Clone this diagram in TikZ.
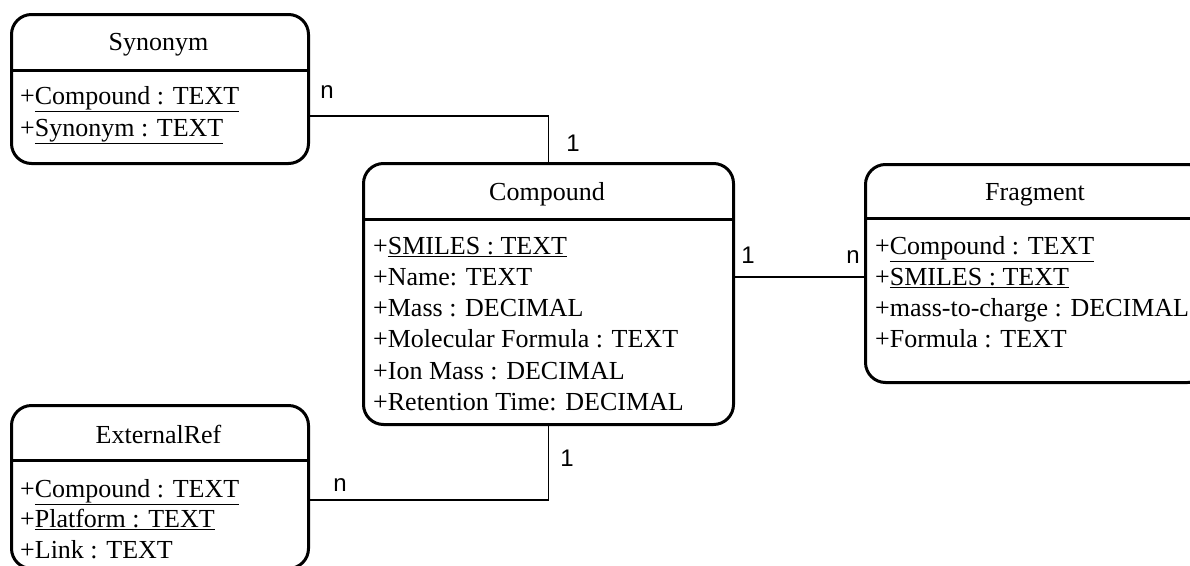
\documentclass[tikz,border=0pt]{standalone}
\usepackage{fontspec}
\setmainfont{Liberation Serif}
\newfontfamily\cardfont{Liberation Sans}

\tikzset{
  entity/.style={draw,line width=3pt,rounded corners=20pt,inner sep=0pt,anchor=north west},
  divider/.style={draw,line width=3pt},
  title/.style={font=\fontsize{26}{31}\selectfont,anchor=base,inner sep=0pt},
  attr/.style={font=\fontsize{26}{31}\selectfont,anchor=base west,inner sep=0pt},
  card/.style={font=\cardfont\fontsize{24}{24}\selectfont,inner sep=0pt},
  rel/.style={draw,line width=1.5pt},
}

\begin{document}
\begin{tikzpicture}[x=1pt,y=-1pt]

\useasboundingbox (0,0) rectangle (1190,565);

\node [entity,minimum width=297pt,minimum height=149pt] (syn) at (10,13) {};
\node [entity,minimum width=370pt,minimum height=261pt] (comp) at (362,162) {};
\node [entity,minimum width=342pt,minimum height=218pt] (frag) at (864,163) {};
\node [entity,minimum width=297pt,minimum height=163pt] (ext) at (10,404) {};

\path [divider]
    (syn.west |- 0,70) -- (syn.east |- 0,70)
    (comp.west |- 0,219) -- (comp.east |- 0,219)
    (frag.west |- 0,218) -- (frag.east |- 0,218)
    (ext.west |- 0,460) -- (ext.east |- 0,460)
;

\node [title] (synT) at (158.5,50) {Synonym};
\node [attr] (syn1) at (20,104.5) {+\underline{Compound : TEXT}};
\node [attr] (syn2) at (20,136.5) {+\underline{Synonym : TEXT}};

\node [title] (compT) at (547,200) {Compound};
\node [attr] (comp1) at (373,254) {+\underline{SMILES : TEXT}};
\node [attr] (comp2) at (373,285.3) {+Name: TEXT};
\node [attr] (comp3) at (373,316.6) {+Mass : DECIMAL};
\node [attr] (comp4) at (373,347.9) {+Molecular Formula : TEXT};
\node [attr] (comp5) at (373,379.2) {+Ion Mass : DECIMAL};
\node [attr] (comp6) at (373,410.5) {+Retention Time: DECIMAL};

\node [title] (fragT) at (1035,200) {Fragment};
\node [attr] (frag1) at (875,254) {+\underline{Compound : TEXT}};
\node [attr] (frag2) at (875,285) {+\underline{SMILES : TEXT}};
\node [attr] (frag3) at (875,316) {+mass-to-charge : DECIMAL};
\node [attr] (frag4) at (875,347) {+Formula : TEXT};

\node [title] (extT) at (158.5,443) {ExternalRef};
\node [attr] (ext1) at (20,497) {+\underline{Compound : TEXT}};
\node [attr] (ext2) at (20,527.5) {+\underline{Platform : TEXT}};
\node [attr] (ext3) at (20,558) {+Link : TEXT};

\coordinate (j1) at (547,116);
\coordinate (j2) at (547,277);
\coordinate (j3) at (547,500);

\path [rel]
    (syn.east |- j1) -| (comp.north)
    (comp.east |- j2) -- (frag.west |- j2)
    (ext.east |- j3) -| (comp.south)
;

\node [card] (c1) at (327,92) {n};
\node [card] (c2) at (573,143) {1};
\node [card] (c3) at (748,255) {1};
\node [card] (c4) at (853,257) {n};
\node [card] (c5) at (340,485) {n};
\node [card] (c6) at (567,458) {1};

\end{tikzpicture}
\end{document}
